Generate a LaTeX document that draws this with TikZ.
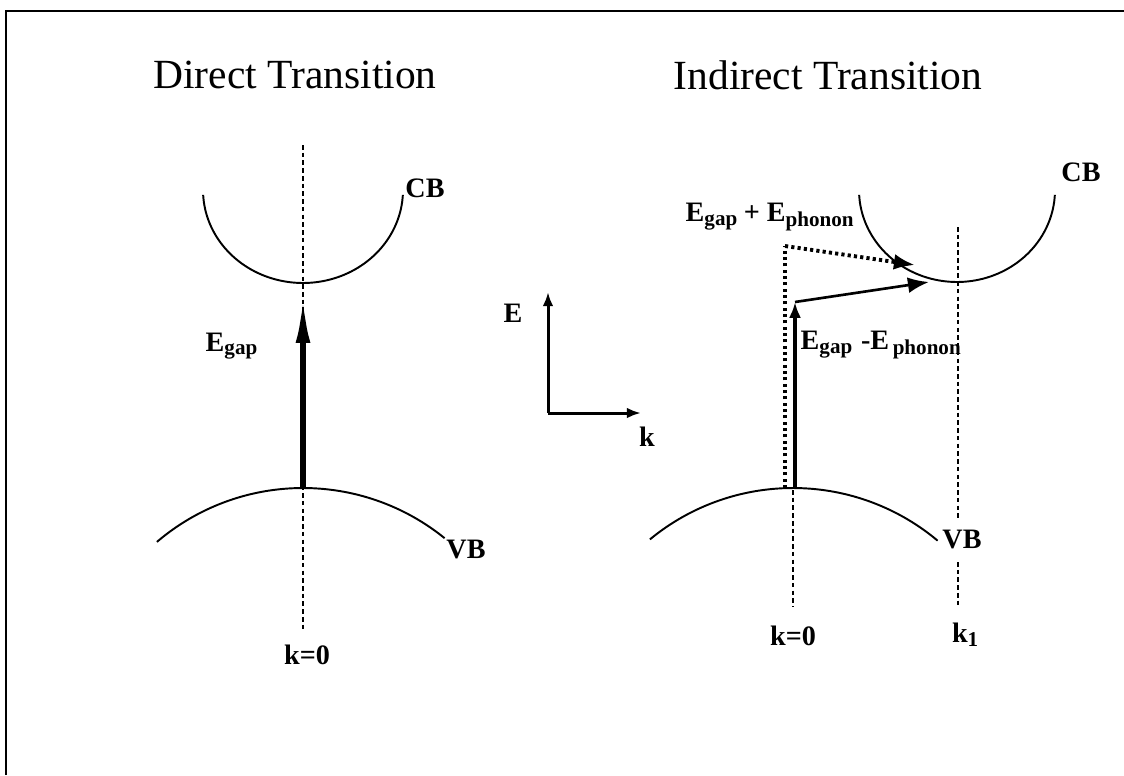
\documentclass[tikz,border=0pt]{standalone}
\usepackage{fontspec}
\setmainfont{Liberation Serif}
\usetikzlibrary{arrows.meta}

\begin{document}
\begin{tikzpicture}[
    x={(0.01cm,0cm)}, y={(0cm,-0.01cm)},
    >={Latex[length=6pt,width=4.5pt]},
    band/.style={line width=0.55pt},
    kline/.style={line width=0.5pt, dash pattern=on 1.3pt off 0.9pt},
    phline/.style={line width=1.1pt, dash pattern=on 0.9pt off 0.9pt},
    title/.style={font=\fontsize{11.8}{14}\selectfont, inner sep=0pt},
    lbl/.style={font=\bfseries\fontsize{8}{10}\selectfont, inner sep=0pt}
]
\useasboundingbox (0,0) rectangle (1124,775);

    % --- Frame ---
    \draw[line width=0.6pt] (6,775) -- (6,11) -- (1124,11);

    % --- Titles ---
    \node[title] (dirT) at (295,75) {Direct Transition};
    \node[title] (indT) at (828,75) {Indirect Transition};

    % --- Direct transition ---
    \coordinate (kLtop) at (303,145);
    \coordinate (kLbot) at (303,632);
    \coordinate (cbLmin) at (303,283);
    \coordinate (vbLmax) at (303,488);

    \draw[kline] (kLtop) -- (kLbot);
    \draw[band] plot[domain=3:177, samples=40, smooth] ({303+100*cos(\x)},{190+93*sin(\x)});
    \draw[band] plot[domain=-40.5:39, samples=40, smooth] ({303+225*sin(\x)},{713-225*cos(\x)});
    \draw[line width=1.9pt, -{Latex[length=17pt,width=4pt]}] (vbLmax) -- (cbLmin);

    \node[lbl] (cbL) at (425,188) {CB};
    \node[lbl] (vbL) at (466,549) {VB};
    \node[lbl, anchor=west] (egapL) at (205,346) {E\textsubscript{gap}};
    \node[lbl] (k0L) at (307,655) {k=0};

    % --- Axes ---
    \coordinate (O) at (548,413);
    \coordinate (Etip) at (548,292);
    \coordinate (ktip) at (641,413);
    \draw[line width=0.85pt, -{Latex[length=4pt,width=3pt]}] (O) -- (Etip);
    \draw[line width=0.85pt, -{Latex[length=4pt,width=3pt]}] (O) -- (ktip);
    \node[lbl] (Elab) at (513,313) {E};
    \node[lbl] (klab) at (647,437) {k};

    % --- Indirect transition ---
    \coordinate (kRtop) at (793,490);
    \coordinate (kRbot) at (793,607);
    \coordinate (k1top) at (958,227);
    \coordinate (k1mid) at (958,518);
    \coordinate (k1low) at (958,562);
    \coordinate (k1bot) at (958,605);
    \coordinate (vbRmax) at (795,488);
    \coordinate (ph1) at (795,302);
    \coordinate (ph1tip) at (929,282);
    \coordinate (ph2bot) at (785,488);
    \coordinate (ph2top) at (785,246);
    \coordinate (ph2tip) at (915,265);

    \draw[kline] (kRtop) -- (kRbot);
    \draw[kline] (k1top) -- (k1mid);
    \draw[kline] (k1low) -- (k1bot);
    \draw[band] plot[domain=3:177, samples=40, smooth] ({957+98*cos(\x)},{190+92*sin(\x)});
    \draw[band] plot[domain=-39.5:40, samples=40, smooth] ({793+225*sin(\x)},{713-225*cos(\x)});

    % phonon absorption / emission paths
    \draw[phline] (ph2bot) -- (ph2top);
    \draw[phline, -{Latex[length=6pt,width=4.5pt]}] (ph2top) -- (ph2tip);
    \draw[line width=0.9pt, -{Latex[length=4.5pt,width=3.4pt]}] (vbRmax) -- (ph1);
    \draw[line width=0.75pt, ->] (ph1) -- (ph1tip);

    \node[lbl] (cbR) at (1081,172) {CB};
    \node[lbl] (vbR) at (962,539) {VB};
    \node[lbl] (k0R) at (793,636) {k=0};
    \node[lbl] (k1R) at (966,635) {k\textsubscript{1}};
    \node[lbl, anchor=west] (eplus) at (685,217) {E\textsubscript{gap}\,+ E\textsubscript{phonon}};
    \node[lbl, anchor=west] (eminus) at (800,345) {E\textsubscript{gap} -E\textsubscript{\,phonon}};

\end{tikzpicture}
\end{document}
